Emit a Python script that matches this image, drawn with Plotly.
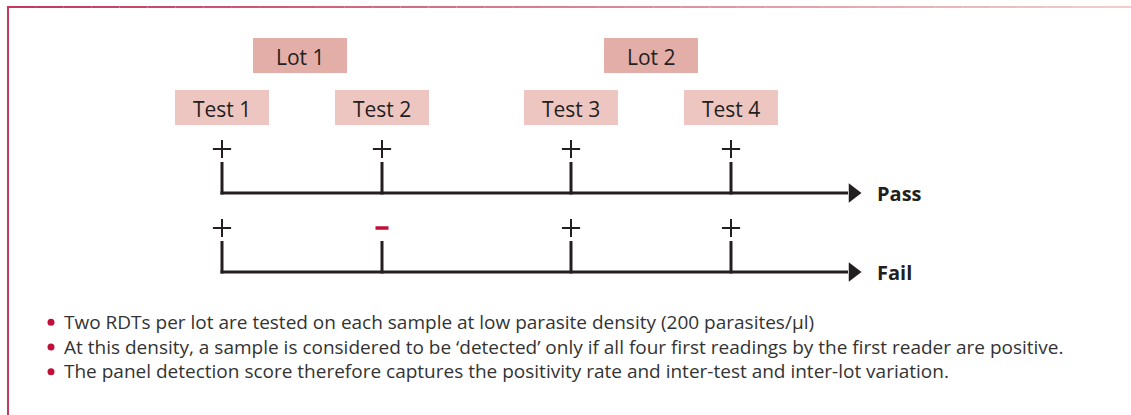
import plotly.graph_objects as go

# ---- data ----
lots = ["Lot 1", "Lot 2"]
tests = ["Test 1", "Test 2", "Test 3", "Test 4"]
outcomes = ["Pass", "Fail"]
readings = [["+", "+", "+", "+"], ["+", "−", "+", "+"]]
notes = [
    "Two RDTs per lot are tested on each sample at low parasite density (200 parasites/µl)",
    "At this density, a sample is considered to be ‘detected’ only if all four first readings by the first reader are positive.",
    "The panel detection score therefore captures the positivity rate and inter-test and inter-lot variation.",
]

# ---- layout geometry (pixels) ----
W, H = 1131, 415
test_x = [222, 382, 571, 731]
box_w, box_h = 94, 35
test_box_y = 90
lot_box_y = 38
lot_x = [300, 651]
row_line_y = [193, 272]
sign_dy = 44
tick_len = 31
line_end = 862
label_x = 875
note_mid_y = 346
note_font = 19
note_line = 1.3 * note_font

DARK = "#231F20"
CRIMSON = "#C0103A"
LOT_FILL = "#E3ADA8"
TEST_FILL = "#EDC6C1"
FONT = "Open Sans"

fig = go.Figure()
shapes = []
annotations = []

# frame: left border and gradient top border
shapes.append(dict(type="line", x0=8, x1=8, y0=7, y1=H + 5, line=dict(color="#C23A5E", width=2)))
n = 40
c0 = (194, 58, 94)
c1 = (240, 205, 200)
for i in range(n):
    t = i / (n - 1)
    col = tuple(int(c0[k] + (c1[k] - c0[k]) * t) for k in range(3))
    xa = 7 + (W - 7) * i / n
    xb = 7 + (W - 7) * (i + 1) / n
    shapes.append(dict(type="line", x0=xa, x1=xb, y0=7, y1=7,
                       line=dict(color="rgb(%d,%d,%d)" % col, width=2)))

# lot boxes
for name, cx in zip(lots, lot_x):
    shapes.append(dict(type="rect", x0=cx - box_w / 2, x1=cx + box_w / 2,
                       y0=lot_box_y, y1=lot_box_y + box_h,
                       fillcolor=LOT_FILL, line=dict(width=0), layer="below"))
    annotations.append(dict(x=cx, y=lot_box_y + box_h / 2 + 1, text=name, showarrow=False,
                            font=dict(family=FONT, size=21, color=DARK),
                            xanchor="center", yanchor="middle"))

# test boxes
for name, cx in zip(tests, test_x):
    shapes.append(dict(type="rect", x0=cx - box_w / 2, x1=cx + box_w / 2,
                       y0=test_box_y, y1=test_box_y + box_h,
                       fillcolor=TEST_FILL, line=dict(width=0), layer="below"))
    annotations.append(dict(x=cx, y=test_box_y + box_h / 2 + 1, text=name, showarrow=False,
                            font=dict(family=FONT, size=21, color=DARK),
                            xanchor="center", yanchor="middle"))

# outcome rows
for outcome, ly, signs in zip(outcomes, row_line_y, readings):
    fig.add_trace(go.Scatter(x=[test_x[0] - 1.5, line_end - 14], y=[ly, ly], mode="lines",
                             line=dict(color=DARK, width=3), hoverinfo="skip"))
    fig.add_trace(go.Scatter(x=[line_end - 9], y=[ly], mode="markers",
                             marker=dict(symbol="triangle-right", size=17, color=DARK,
                                         line=dict(width=0)),
                             hoverinfo="skip"))
    plus_x = [cx for cx, s in zip(test_x, signs) if s == "+"]
    fig.add_trace(go.Scatter(x=plus_x, y=[ly - sign_dy] * len(plus_x), mode="markers",
                             marker=dict(symbol="cross-thin", size=13,
                                         line=dict(color=DARK, width=2)),
                             hoverinfo="skip"))
    for cx, s in zip(test_x, signs):
        fig.add_trace(go.Scatter(x=[cx, cx], y=[ly - tick_len, ly + 1.5], mode="lines",
                                 line=dict(color=DARK, width=3), hoverinfo="skip"))
        if s != "+":
            shapes.append(dict(type="line", x0=cx - 6.5, x1=cx + 6.5, y0=ly - sign_dy, y1=ly - sign_dy,
                               line=dict(color=CRIMSON, width=3.5)))
    annotations.append(dict(x=label_x, y=ly, text="<b>%s</b>" % outcome, showarrow=False,
                            font=dict(family=FONT, size=20, color=DARK),
                            xanchor="left", yanchor="middle"))

# notes: one multi-line text block with crimson bullets
note_ys = [note_mid_y + (i - (len(notes) - 1) / 2) * note_line for i in range(len(notes))]
fig.add_trace(go.Scatter(x=[51] * len(notes), y=[y + 1 for y in note_ys], mode="markers",
                         marker=dict(symbol="circle", size=7, color=CRIMSON, line=dict(width=0)),
                         hoverinfo="skip"))
annotations.append(dict(x=62, y=note_mid_y, text="<br>".join(notes), showarrow=False,
                        align="left",
                        font=dict(family=FONT, size=note_font, color="#333333"),
                        xanchor="left", yanchor="middle"))

fig.update_layout(
    width=W, height=H, margin=dict(l=0, r=0, t=0, b=0),
    paper_bgcolor="white", plot_bgcolor="white", showlegend=False,
    xaxis=dict(range=[0, W], visible=False, fixedrange=True),
    yaxis=dict(range=[H, 0], visible=False, fixedrange=True),
    shapes=shapes, annotations=annotations,
)
fig.write_html("out.html", config={"displayModeBar": False},
               post_script="document.body.style.margin='0';")
